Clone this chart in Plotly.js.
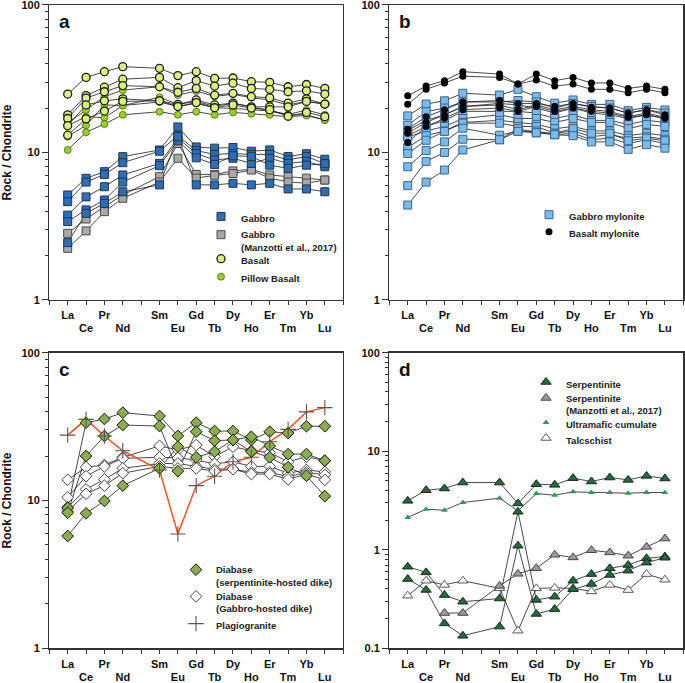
<!DOCTYPE html>
<html>
<head>
<meta charset="utf-8">
<script src="https://cdn.plot.ly/plotly-3.0.1.min.js"></script>
<style>html,body{margin:0;padding:0;background:#fff;}#chart{width:685px;height:683px;}</style>
</head>
<body>
<div id="chart"></div>
<script>
// ---------- categories ----------
const elements = ['La','Ce','Pr','Nd','Sm','Eu','Gd','Tb','Dy','Ho','Er','Tm','Yb','Lu'];
const elementPos = [1,2,3,4,6,7,8,9,10,11,12,13,14,15];   // Pm (5) left as a gap

// ---------- panel a ----------
const gabbro = [
  [5.15,6.68,7.41,9.37,10.4,14.9,10.9,10.7,10.8,10.2,10.4,9.4,9.8,9.0],
  [4.64,6.3,7.1,8.53,10.2,13.0,10.3,9.7,9.84,9.7,9.7,8.9,9.4,8.4],
  [3.76,5.0,5.86,7.04,8.43,12.5,9.84,8.9,9.14,8.43,9.14,8.43,8.7,8.0],
  [3.4,4.08,4.76,6.3,8.14,12.0,9.2,8.3,9.5,9.4,8.2,7.8,8.2,8.4],
  [2.45,3.87,4.52,5.42,6.03,12.8,6.03,6.03,6.18,6.03,6.18,5.66,5.66,5.42]
];
const gabbroManzotti = [
  [2.83,3.54,4.3,5.15,6.86,11.5,7.1,7.1,7.5,7.7,7.04,6.86,6.7,6.51],
  [2.24,2.94,3.97,4.89,6.3,9.14,6.7,7.0,7.2,7.6,6.7,6.3,6.2,6.5]
];
const basalt = [
  [24.9,32.3,35.3,38.2,37.2,33.2,35.3,31.8,32.0,30.2,29.9,27.9,28.9,27.2],
  [18.0,24.3,27.7,31.4,32.3,27.5,30.7,28.2,29.5,27.2,26.8,25.8,26.2,24.9],
  [17.0,23.4,25.8,28.4,27.9,25.6,27.2,24.5,25.2,23.9,23.5,21.6,23.1,21.3],
  [15.2,21.0,22.4,23.1,22.4,21.2,22.7,21.0,21.6,20.4,20.4,20.4,22.2,21.3],
  [13.1,16.9,19.1,22.2,22.4,20.5,21.8,20.1,21.0,20.0,19.5,17.6,18.7,17.5]
];
const pillowBasalt = [
  [15.8,19.4,23.9,26.5,27.9,24.5,26.1,24.0,24.8,23.5,22.7,21.0,22.2,21.3],
  [12.8,15.3,21.0,20.8,23.7,21.2,22.2,20.5,21.6,20.4,19.1,18.1,19.4,18.0],
  [15.2,17.5,17.2,20.8,22.0,20.5,21.5,20.1,19.9,19.5,19.1,18.0,18.0,16.6],
  [10.4,13.7,15.6,18.0,18.9,18.0,18.9,18.0,18.7,18.3,18.0,17.5,17.8,16.6]
];

// ---------- panel b ----------
const gabbroMylonite = [
  [17.7,21.3,22.4,25.2,24.5,26.8,23.9,21.6,22.7,21.2,21.2,19.2,20.2,19.4],
  [15.3,18.9,20.0,22.0,22.0,22.5,22.0,20.0,21.5,20.5,20.0,18.5,19.5,18.5],
  [14.1,16.5,18.0,20.5,21.5,21.0,20.0,18.5,20.0,18.5,18.0,17.0,18.0,17.0],
  [13.0,15.0,16.5,19.0,19.0,19.0,18.5,17.0,18.0,16.5,16.5,15.5,16.5,16.0],
  [12.7,14.0,15.0,17.0,18.0,17.0,17.0,16.0,17.0,16.0,16.0,14.5,15.5,15.0],
  [10.8,13.0,14.0,16.0,16.5,16.0,15.5,14.5,15.0,14.0,14.0,13.0,13.5,13.0],
  [9.84,12.1,13.9,15.8,15.8,15.0,15.0,13.5,14.0,12.8,13.2,12.5,12.8,12.3],
  [8.0,10.3,11.8,14.6,13.1,13.9,14.0,13.2,13.5,12.2,12.5,11.5,12.2,11.5],
  [5.96,8.7,10.0,12.3,12.2,14.5,13.6,13.5,14.5,13.5,13.5,12.0,12.5,12.0],
  [4.4,6.3,7.6,10.4,12.2,13.9,13.6,13.2,13.0,11.8,11.8,10.5,11.3,10.7]
];
const basaltMylonite = [
  [24.2,28.2,30.7,35.3,34.0,29.1,34.1,30.7,32.3,29.6,29.6,27.2,28.2,26.8],
  [21.2,26.8,29.6,32.9,32.3,29.1,31.0,28.2,29.1,26.8,26.8,25.4,26.8,25.4],
  [14.4,17.5,19.5,22.0,22.5,21.5,21.5,20.5,21.5,20.3,20.0,18.5,19.5,18.0],
  [13.5,16.0,18.0,20.5,21.0,19.5,21.0,19.5,20.5,19.5,19.0,17.5,18.5,17.3],
  [11.7,15.0,17.0,19.5,20.0,19.0,20.5,19.0,20.0,19.0,18.5,17.3,18.0,17.0]
];

// ---------- panel c ----------
const diabaseSerp = [
  [8.9,33.6,35.6,39.3,37.3,27.4,33.6,29.5,29.5,25.7,29.2,28.6,31.8,31.8],
  [8.27,20.0,27.3,32.4,31.9,15.8,29.2,25.4,25.7,27.0,23.4,20.6,20.6,18.6],
  [5.75,8.19,9.93,12.6,16.5,23.1,19.6,21.4,25.7,21.4,19.6,16.8,14.7,10.7]
];
const diabaseGabbro = [
  [13.8,16.8,17.4,19.6,23.4,22.0,23.7,19.8,23.1,21.7,21.1,18.3,19.8,18.6],
  [10.5,14.6,17.0,19.3,19.6,19.4,18.8,17.7,18.3,17.0,17.0,15.3,16.1,15.6],
  [9.0,11.9,13.9,16.5,17.8,17.8,17.0,16.3,16.3,15.5,15.5,14.5,15.5,14.9],
  [8.5,11.1,12.6,15.3,17.0,16.5,16.5,15.8,16.3,15.1,15.1,13.9,15.1,13.8]
];
const plagiogranite = [27.7,35.4,27.3,21.7,16.1,5.93,12.6,14.6,18.3,19.6,25.0,30.3,39.8,42.5];

// ---------- panel d ----------
const serpentinite = [
  [3.14,4.02,4.19,4.81,4.81,2.95,4.63,4.56,5.33,4.93,5.41,5.12,5.62,5.29],
  [0.673,0.59,0.347,0.297,0.32,2.43,0.31,0.334,0.485,0.567,0.649,0.70,0.819,0.851],
  [0.505,0.391,0.179,0.134,0.166,1.10,0.223,0.25,0.397,0.45,0.555,0.614,0.74,0.83]
];
const serpManzotti = [null,null,0.228,0.228,0.43,0.57,0.65,0.89,0.836,0.99,0.94,0.87,1.07,1.30];
const ultramaficCumulate = [2.13,2.58,2.52,3.02,3.34,2.48,3.72,3.58,3.87,3.81,3.81,3.75,3.81,3.81];
const talcschist = [0.342,0.485,0.44,0.485,0.406,0.151,0.406,0.41,0.406,0.378,0.44,0.39,0.567,0.497];

// ---------- styles ----------
const FONT = 'Liberation Sans, Arial, Helvetica, sans-serif';
const M = {
  gabbro:   {symbol:'square', size:8, color:'#2f6db4', line:{color:'#1d3552', width:1}},
  gabbroM:  {symbol:'square', size:8, color:'#a8a8a8', line:{color:'#4a4a4a', width:1}},
  basalt:   {symbol:'circle', size:8, color:'#d9f27c', line:{color:'#1a1a1a', width:1.3}},
  pillow:   {symbol:'circle', size:7, color:'#95d321', line:{color:'#4c6418', width:0.8}},
  gabMyl:   {symbol:'square', size:8, color:'#78bcef', line:{color:'#3e6484', width:1}},
  basMyl:   {symbol:'circle', size:7, color:'#000000', line:{color:'#000', width:0}},
  diaSerp:  {symbol:'diamond', size:9, color:'#8aae4e', line:{color:'#151515', width:1}},
  diaGab:   {symbol:'diamond', size:9, color:'#ffffff', line:{color:'#444', width:1}},
  plag:     {symbol:'cross-thin', size:11, color:'#555', line:{color:'#555', width:1.1}},
  serp:     {symbol:'triangle-up', size:9, color:'#1c6f37', line:{color:'#222', width:1}},
  serpM:    {symbol:'triangle-up', size:9, color:'#9a9a9a', line:{color:'#444', width:1}},
  ultra:    {symbol:'triangle-up', size:6, color:'#2a9a56', line:{color:'#2a9a56', width:0}},
  talc:     {symbol:'triangle-up', size:9, color:'#ffffff', line:{color:'#555', width:1}}
};

const lineTraces = [], markerTraces = [], legendTraces = [];
function addSeries(list, ax, marker, lineColor, lineWidth) {
  list.forEach(vals => {
    lineTraces.push({x: elementPos, y: vals, xaxis: 'x'+ax, yaxis: 'y'+ax, mode: 'lines',
      line: {color: lineColor || '#1a1a1a', width: lineWidth || 0.8}, connectgaps: false,
      showlegend: false, hoverinfo: 'skip'});
    markerTraces.push({x: elementPos, y: vals, xaxis: 'x'+ax, yaxis: 'y'+ax, mode: 'markers',
      marker: marker, showlegend: false, hoverinfo: 'skip'});
  });
}
const a = '', b = '2', c = '3', d = '4';
addSeries(gabbroManzotti, a, M.gabbroM);
addSeries(gabbro, a, M.gabbro);
addSeries(pillowBasalt, a, M.pillow);
addSeries(basalt, a, M.basalt);
addSeries(gabbroMylonite, b, M.gabMyl);
addSeries(basaltMylonite, b, M.basMyl);
addSeries(diabaseGabbro, c, M.diaGab);
addSeries(diabaseSerp, c, M.diaSerp);
addSeries([plagiogranite], c, M.plag, '#ff5020', 1.5);
addSeries([talcschist], d, M.talc);
addSeries([serpManzotti], d, M.serpM);
addSeries([ultramaficCumulate], d, M.ultra);
addSeries(serpentinite, d, M.serp);

// ---------- legend entries (each in its own legend box so it can be placed) ----------
const legFont = {family: FONT, size: 9.5, color: '#222', weight: 'bold'};
const legendEntries = [
  // name, panel, marker, symbol x (px), first-line centre y (px)
  ['Gabbro', a, M.gabbro, 222, 216.7],
  ['Gabbro<br>(Manzotti et al., 2017)', a, M.gabbroM, 222, 235],
  ['Basalt', a, M.basalt, 222, 259],
  ['Pillow Basalt', a, M.pillow, 222, 277],
  ['Gabbro mylonite', b, M.gabMyl, 550, 215],
  ['Basalt mylonite', b, M.basMyl, 550, 232],
  ['Diabase<br>(serpentinite-hosted dike)', c, M.diaSerp, 197, 570],
  ['Diabase<br>(Gabbro-hosted dike)', c, M.diaGab, 197, 596.7],
  ['Plagiogranite', c, M.plag, 197, 624],
  ['Serpentinite', d, M.serp, 547, 382.3],
  ['Serpentinite<br>(Manzotti et al., 2017)', d, M.serpM, 547, 398.3],
  ['Ultramafic cumulate', d, M.ultra, 547, 422.7],
  ['Talcschist', d, M.talc, 547, 438.3]
];
const legendLayouts = {};
legendEntries.forEach((e, i) => {
  const id = i === 0 ? 'legend' : 'legend' + (i + 1);
  legendTraces.push({x: [null], y: [null], xaxis: 'x'+e[1], yaxis: 'y'+e[1], mode: 'markers',
    marker: e[2], name: e[0], legend: id, showlegend: true});
  legendLayouts[id] = {x: (e[3] - 21) / 685, y: 1 - (e[4] - 13) / 683, xanchor: 'left', yanchor: 'top',
    bgcolor: 'rgba(0,0,0,0)', borderwidth: 0, font: legFont, valign: 'top',
    itemclick: false, itemdoubleclick: false};
});

// ---------- axes ----------
const tickVals = [], upperText = [], lowerText = [];
for (let p = 0; p <= 16; p++) {
  tickVals.push(p);
  const i = elementPos.indexOf(p);
  upperText.push(i >= 0 && i % 2 === 0 ? elements[i] : '');
  lowerText.push(i >= 0 && i % 2 === 1 ? elements[i] : '');
}
const tickFont = {family: FONT, size: 11, color: '#111', weight: 'bold'};
function xAxis(dom, anchor) {
  return {domain: dom, anchor: anchor, range: [0, 16], tickmode: 'array', tickvals: tickVals, ticktext: upperText,
    ticks: 'outside', ticklen: 4, tickwidth: 1, tickcolor: '#333', showline: true, mirror: true,
    linecolor: '#333', linewidth: 1.3, showgrid: false, zeroline: false, tickfont: tickFont,
    ticklabelstandoff: 1, ticklabeloverflow: 'allow'};
}
function xAxisLower(overlay, anchor) {
  return {overlaying: overlay, anchor: anchor, side: 'bottom', range: [0, 16], tickmode: 'array',
    tickvals: tickVals, ticktext: lowerText, ticks: 'outside', ticklen: 4, tickcolor: 'rgba(0,0,0,0)',
    showline: false, showgrid: false, zeroline: false, tickfont: tickFont,
    ticklabelstandoff: 14, ticklabeloverflow: 'allow'};
}
function yAxis(dom, anchor, lo, showTitle) {
  const major = [], minor = [];
  for (let e = lo; e <= 2; e++) major.push(Math.pow(10, e));
  for (let e = lo; e < 2; e++) for (let k = 2; k <= 9; k++) minor.push(k * Math.pow(10, e));
  return {domain: dom, anchor: anchor, type: 'log', range: [lo, 2], tickmode: 'array', tickvals: major,
    ticktext: major.map(v => String(v)), ticks: 'outside', ticklen: 6, tickwidth: 1, tickcolor: '#333',
    minor: {tickmode: 'array', tickvals: minor, ticks: 'outside', ticklen: 3.5, tickwidth: 1, tickcolor: '#333', showgrid: false},
    showline: true, mirror: true, linecolor: '#333', linewidth: 1.3, showgrid: false, zeroline: false,
    tickfont: tickFont, ticklabeloverflow: 'allow',
    title: showTitle ? {text: 'Rock / Chondrite', font: {family: FONT, size: 12, color: '#111', weight: 'bold'}, standoff: 7} : {text: ''}};
}
const xL = [0.072, 0.501], xR = [0.5684, 0.9975];
const yT = [0.5608, 0.9927], yB = [0.0508, 0.4836];

const letter = (t, ax) => ({text: '<b>' + t + '</b>', xref: 'x' + ax + ' domain', yref: 'y' + ax + ' domain',
  x: 0.025, y: 0.985, xanchor: 'left', yanchor: 'top', showarrow: false,
  font: {family: FONT, size: 19, color: '#111'}});

const layout = Object.assign({
  width: 685, height: 683, margin: {l: 0, r: 0, t: 0, b: 0},
  paper_bgcolor: '#fff', plot_bgcolor: '#fff', showlegend: true,
  xaxis: xAxis(xL, 'y'), yaxis: yAxis(yT, 'x', 0, true),
  xaxis2: xAxis(xR, 'y2'), yaxis2: yAxis(yT, 'x2', 0, false),
  xaxis3: xAxis(xL, 'y3'), yaxis3: yAxis(yB, 'x3', 0, true),
  xaxis4: xAxis(xR, 'y4'), yaxis4: yAxis(yB, 'x4', -1, false),
  xaxis5: xAxisLower('x', 'y'), xaxis6: xAxisLower('x2', 'y2'),
  xaxis7: xAxisLower('x3', 'y3'), xaxis8: xAxisLower('x4', 'y4'),
  annotations: [letter('a', ''), letter('b', '2'), letter('c', '3'), letter('d', '4')]
}, legendLayouts);

// invisible carriers so the overlay axes that hold the lower tick row are drawn
const carriers = [['x5','y'],['x6','y2'],['x7','y3'],['x8','y4']].map(p => ({
  x: [null], y: [null], xaxis: p[0], yaxis: p[1], mode: 'markers', showlegend: false, hoverinfo: 'skip'}));

Plotly.newPlot('chart', lineTraces.concat(markerTraces, carriers, legendTraces), layout, {staticPlot: true, displayModeBar: false});
</script>
</body>
</html>
